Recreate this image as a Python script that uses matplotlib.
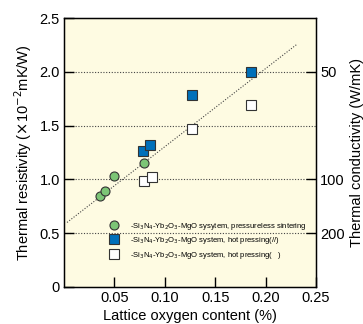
import matplotlib
matplotlib.use("Agg")
import numpy as np
import matplotlib.pyplot as plt

plt.rcParams['font.family'] = ['Liberation Sans', 'DejaVu Sans']

# pressureless sintering (green circles)
ps_oxygen = [0.0357, 0.041, 0.0493, 0.0794]
ps_resist = [0.846, 0.895, 1.03, 1.15]

# hot pressing (//) (blue squares)
hp_par_oxygen = [0.0787, 0.085, 0.127, 0.1855]
hp_par_resist = [1.267, 1.322, 1.78, 2.0]

# hot pressing (perpendicular) (white squares)
hp_perp_oxygen = [0.0794, 0.0876, 0.127, 0.186]
hp_perp_resist = [0.982, 1.025, 1.471, 1.691]

# dotted trend line end points
fit_x = [0.003, 0.231]
fit_y = [0.60, 2.255]

y_ticks = [0, 0.5, 1.0, 1.5, 2.0, 2.5]
y_labels = ['0', '0.5', '1.0', '1.5', '2.0', '2.5']
x_ticks = [0.05, 0.10, 0.15, 0.20, 0.25]
x_labels = ['0.05', '0.10', '0.15', '0.20', '0.25']
cond_values = [50, 100, 200]

labels = [r'-Si$_3$N$_4$-Yb$_2$O$_3$-MgO sysytem, pressureless sintering',
          r'-Si$_3$N$_4$-Yb$_2$O$_3$-MgO system, hot pressing(//)',
          r'-Si$_3$N$_4$-Yb$_2$O$_3$-MgO system, hot pressing(   )']

fig = plt.figure(figsize=(3.63, 3.24), dpi=100)
ax = fig.add_axes([64 / 363, 1 - 287 / 324, 252 / 363, 269 / 324])
ax.set_facecolor('#fefbe2')

for y in [0.5, 1.0, 1.5, 2.0]:
    ax.axhline(y, color='#444444', linestyle=(0, (1, 1.5)), linewidth=0.8, zorder=1)

ax.plot(fit_x, fit_y, color='#444444', linestyle=(0, (1, 1.5)), linewidth=0.8, zorder=2)

ms = 6.5
h1, = ax.plot(ps_oxygen, ps_resist, 'o', ms=ms, mfc='#7cc576', mec='#333333', mew=0.8, zorder=3)
h2, = ax.plot(hp_par_oxygen, hp_par_resist, 's', ms=ms, mfc='#0070ba', mec='#333333', mew=0.8, zorder=3)
h3, = ax.plot(hp_perp_oxygen, hp_perp_resist, 's', ms=ms, mfc='white', mec='#333333', mew=0.8, zorder=3)

ax.set_xlim(0, 0.25)
ax.set_ylim(0, 2.5)
ax.set_xticks(x_ticks)
ax.set_xticklabels(x_labels)
ax.set_yticks(y_ticks)
ax.set_yticklabels(y_labels)
ax.tick_params(direction='in', length=7, width=1, labelsize=10.5, pad=3)
for s in ax.spines.values():
    s.set_linewidth(1.0)

ax.set_xlabel('Lattice oxygen content (%)', fontsize=10.5, labelpad=3)
ax.set_ylabel(r'Thermal resistivity ($\times$10$^{-2}$mK/W)', fontsize=10.5, labelpad=4)

ax2 = ax.twinx()
ax2.set_ylim(0, 2.5)
ax2.set_yticks([100.0 / c for c in cond_values])
ax2.set_yticklabels([str(c) for c in cond_values])
ax2.tick_params(direction='in', length=7, width=1, labelsize=10.5, pad=3)
ax2.set_ylabel('Thermal conductivity (W/mK)', fontsize=10.5, labelpad=4)

leg = ax.legend([h1, h2, h3], labels, loc='upper left', bbox_to_anchor=(0.163, 0.258),
                frameon=False, fontsize=5.5, handletextpad=1.2, labelspacing=0.45,
                borderaxespad=0, handlelength=1.6)

fig.savefig('out.png', dpi=100)
